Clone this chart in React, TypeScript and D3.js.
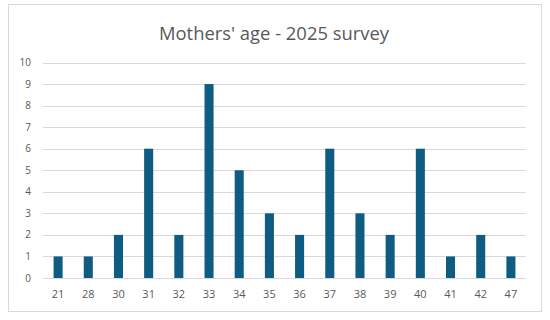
import React from "react";
import * as d3 from "d3";

const ages = ["21","28","30","31","32","33","34","35","36","37","38","39","40","41","42","47"];
const counts = [1,1,2,6,2,9,5,3,2,6,3,2,6,1,2,1];
const yTicks = [0,1,2,3,4,5,6,7,8,9,10];
const title = "Mothers' age - 2025 survey";

export default function App() {
  const W = 550, H = 320;
  const left = 43, right = 526, top = 62.5, bottom = 278;
  const x = d3.scaleBand<string>().domain(ages).range([left, right]).paddingInner(0.7).paddingOuter(0.35);
  const y = d3.scaleLinear().domain([0, 10]).range([bottom, top]);
  const font = "'Open Sans', 'Noto Sans', sans-serif";
  return (
    <svg width={W} height={H} style={{ position: "absolute", left: 0, top: 0, background: "#fff" }}>
      <rect x={8.5} y={4.5} width={533} height={307} fill="#fff" stroke="#d9d9d9" strokeWidth={1} />
      <text x={274} y={39.5} textAnchor="middle" fontFamily={font} fontSize={18.4} fill="#595959">{title}</text>
      {yTicks.map(t => (
        <g key={t}>
          <line x1={left} x2={right} y1={Math.round(y(t)) + 0.5} y2={Math.round(y(t)) + 0.5} stroke="#d9d9d9" strokeWidth={1} />
          <text x={31} y={y(t) + 3.5} textAnchor="end" fontFamily={font} fontSize={10} fill="#595959">{t}</text>
        </g>
      ))}
      {ages.map((a, i) => (
        <rect key={a} x={x(a)} y={y(counts[i])} width={x.bandwidth()} height={y(0) - y(counts[i])} fill="#0e5c82" />
      ))}
      {ages.map(a => (
        <text key={a} x={(x(a) as number) + x.bandwidth() / 2} y={298} textAnchor="middle" fontFamily={font} fontSize={11} fill="#595959">{a}</text>
      ))}
    </svg>
  );
}
